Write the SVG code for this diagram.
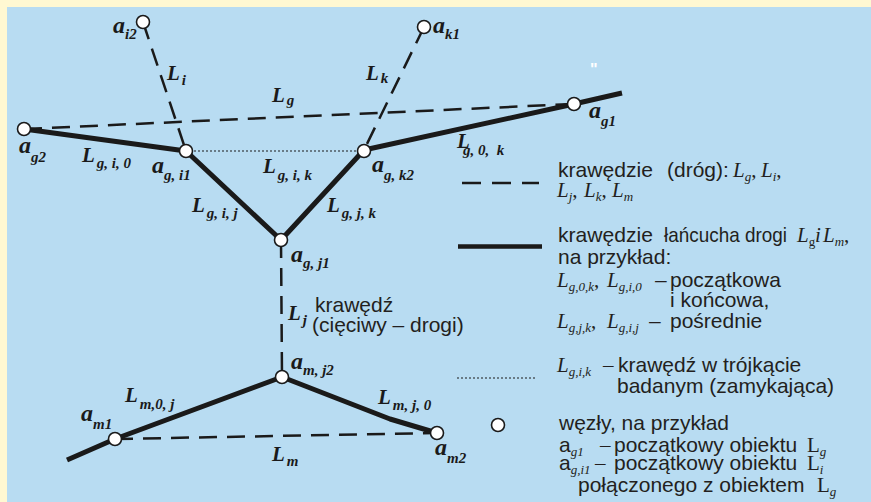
<svg xmlns="http://www.w3.org/2000/svg" width="871" height="502" viewBox="0 0 871 502">
<style>
.thick{fill:none;stroke:#1a1a1a;stroke-width:5;stroke-linejoin:round}
.dash{fill:none;stroke:#1a1a1a;stroke-width:2.5;stroke-dasharray:18 10}
.dot{fill:none;stroke:#1a1a1a;stroke-width:1.2;stroke-dasharray:2 2}
.node{fill:#fff;stroke:#1a1a1a;stroke-width:1.6}
.lab{font-family:"Liberation Serif","Times New Roman",serif;font-weight:bold;font-style:italic;fill:#1a1a1a}
.a{font-size:24px}
.L{font-size:21px}
.s{font-size:15px}
.sans{font-family:"Liberation Sans",Arial,sans-serif;font-size:21px;fill:#231f20}
.it{font-family:"Liberation Serif","Times New Roman",serif;font-style:italic}
.rm{font-family:"Liberation Serif","Times New Roman",serif}
.ss{font-size:13px}
</style>
<rect width="871" height="502" fill="#fff8d2"/>
<rect x="7" y="7" width="864" height="495" fill="#b8dcf2"/>

<g id="connectors">
<polyline class="thick" points="24,129 186,151 281,240 364,150 574,104 622,93"/>
<polyline class="thick" points="67,460 115,439 282,377 390,419 437,433"/>
<line class="dash" x1="24" y1="129" x2="574" y2="104"/>
<line class="dash" x1="143" y1="22" x2="186" y2="151"/>
<line class="dash" x1="424" y1="27" x2="364" y2="150"/>
<line class="dash" x1="281" y1="240" x2="282" y2="377"/>
<line class="dash" x1="115" y1="439" x2="437" y2="433"/>
<line class="dot" x1="186" y1="151" x2="364" y2="151"/>
</g>

<g id="edge-labels" class="lab">
<text class="L" x="167" y="80">L<tspan class="s" dx="2" dy="5">i</tspan></text>
<text class="L" x="272" y="102">L<tspan class="s" dx="2" dy="3">g</tspan></text>
<text class="L" x="366" y="80">L<tspan class="s" dx="2" dy="3">k</tspan></text>
<text class="L" x="82" y="162">L<tspan class="s" dx="2" dy="6">g, i, 0</tspan></text>
<text class="L" x="263" y="173">L<tspan class="s" dx="2" dy="7">g, i, k</tspan></text>
<text class="L" x="457" y="148">L<tspan class="s" x="463" dy="7" xml:space="preserve">g, 0,  k</tspan></text>
<text class="L" x="192" y="212">L<tspan class="s" dx="2" dy="6">g, i, j</tspan></text>
<text class="L" x="327" y="212">L<tspan class="s" dx="2" dy="6">g, j, k</tspan></text>
<text class="L" x="288" y="320">L<tspan class="s" dx="2" dy="5">j</tspan></text>
<text class="L" x="125" y="402">L<tspan class="s" dx="2" dy="7">m,0, j</tspan></text>
<text class="L" x="378" y="404">L<tspan class="s" dx="2" dy="6">m, j, 0</tspan></text>
<text class="L" x="272" y="461">L<tspan class="s" dx="2" dy="5">m</tspan></text>
</g>
<g id="chord-label" class="sans">
<text x="315" y="312">krawędź</text>
<text x="312" y="332">(cięciwy – drogi)</text>
</g>

<g id="n-ai2"><circle class="node" cx="143" cy="22" r="6.5"/><text class="lab a" x="113" y="33">a<tspan class="s" dy="6">i2</tspan></text></g>
<g id="n-ak1"><circle class="node" cx="424" cy="27" r="6.5"/><text class="lab a" x="433" y="33">a<tspan class="s" dy="6">k1</tspan></text></g>
<g id="n-ag2"><circle class="node" cx="24" cy="129" r="6.5"/><text class="lab a" x="19" y="153">a<tspan class="s" dy="9">g2</tspan></text></g>
<g id="n-agi1"><circle class="node" cx="186" cy="151" r="6.5"/><text class="lab a" x="152" y="173">a<tspan class="s" dy="7">g, i1</tspan></text></g>
<g id="n-agk2"><circle class="node" cx="364" cy="151" r="6.5"/><text class="lab a" x="372" y="172">a<tspan class="s" dy="8">g, k2</tspan></text></g>
<g id="n-ag1"><circle class="node" cx="574" cy="104" r="6.5"/><text class="lab a" x="589" y="118">a<tspan class="s" dy="8">g1</tspan></text></g>
<g id="n-agj1"><circle class="node" cx="281" cy="240" r="6.5"/><text class="lab a" x="291" y="262">a<tspan class="s" dy="6">g, j1</tspan></text></g>
<g id="n-amj2"><circle class="node" cx="282" cy="377" r="6.5"/><text class="lab a" x="291" y="369">a<tspan class="s" dy="6">m, j2</tspan></text></g>
<g id="n-am1"><circle class="node" cx="115" cy="439" r="6.5"/><text class="lab a" x="81" y="421">a<tspan class="s" dy="8">m1</tspan></text></g>
<g id="n-am2"><circle class="node" cx="437" cy="433" r="6.5"/><text class="lab a" x="435" y="455">a<tspan class="s" dy="8">m2</tspan></text></g>

<text x="590" y="75" font-family="Liberation Sans,sans-serif" font-size="16" font-weight="bold" fill="#fff">"</text>

<g id="legend" class="sans">
<line x1="462" y1="183" x2="539" y2="183" style="fill:none;stroke:#1a1a1a;stroke-width:2.5;stroke-dasharray:19 11"/>
<text y="177"><tspan x="558" textLength="95" lengthAdjust="spacingAndGlyphs">krawędzie</tspan><tspan x="667">(dróg):</tspan><tspan class="it" x="733">L</tspan><tspan class="it ss" dy="4">g</tspan><tspan class="rm" dy="-4">,</tspan><tspan class="it" x="761">L</tspan><tspan class="it ss" dy="4">i</tspan><tspan class="rm" dy="-4">,</tspan></text>
<text y="197"><tspan class="it" x="557">L</tspan><tspan class="it ss" dy="4">j</tspan><tspan class="rm" dy="-4">,</tspan><tspan class="it" x="584">L</tspan><tspan class="it ss" dy="4">k</tspan><tspan class="rm" dy="-4">,</tspan><tspan class="it" x="612">L</tspan><tspan class="it ss" dy="4">m</tspan></text>

<line x1="458" y1="246.5" x2="542" y2="246.5" style="stroke:#1a1a1a;stroke-width:4.5"/>
<text y="242"><tspan x="558" textLength="95" lengthAdjust="spacingAndGlyphs">krawędzie</tspan><tspan x="664" textLength="123" lengthAdjust="spacingAndGlyphs">łańcucha drogi</tspan><tspan class="it" x="797">L</tspan><tspan class="rm ss" dy="4">g</tspan><tspan class="it" x="815" dy="-4">i</tspan><tspan class="it" x="823">L</tspan><tspan class="it ss" dy="4">m</tspan><tspan class="rm" dy="-4">,</tspan></text>
<text x="558" y="264">na przykład:</text>
<text y="287"><tspan class="it" x="557">L</tspan><tspan class="it ss" dy="4">g,0,k</tspan><tspan class="rm" dy="-4">,</tspan><tspan class="it" x="607">L</tspan><tspan class="it ss" dy="4">g,i,0</tspan><tspan x="655" dy="-4">–</tspan><tspan x="670">początkowa</tspan></text>
<text x="670" y="307">i końcowa,</text>
<text y="328"><tspan class="it" x="557">L</tspan><tspan class="it ss" dy="4">g,j,k</tspan><tspan class="rm" dy="-4">,</tspan><tspan class="it" x="607">L</tspan><tspan class="it ss" dy="4">g,i,j</tspan><tspan x="649" dy="-4">–</tspan><tspan x="670">pośrednie</tspan></text>

<line x1="457" y1="378" x2="537" y2="378" style="fill:none;stroke:#1a1a1a;stroke-width:1.2;stroke-dasharray:2 2"/>
<text y="372"><tspan class="it" x="557">L</tspan><tspan class="it ss" dy="4">g,i,k</tspan><tspan class="rm" x="603" dy="-4">–</tspan><tspan x="618">krawędź w trójkącie</tspan></text>
<text x="617" y="393">badanym (zamykająca)</text>

<circle class="node" cx="498" cy="425" r="6.5"/>
<text x="559" y="430">węzły, na przykład</text>
<text y="452"><tspan x="559">a</tspan><tspan class="it ss" dy="4">g1</tspan><tspan class="rm" x="600" dy="-4">–</tspan><tspan x="614">początkowy obiektu</tspan><tspan class="rm" x="807">L</tspan><tspan class="it ss" dy="4">g</tspan></text>
<text y="470"><tspan x="559">a</tspan><tspan class="it ss" dy="4">g,i1</tspan><tspan class="rm" x="595" dy="-4">–</tspan><tspan x="614">początkowy obiektu</tspan><tspan class="rm" x="807">L</tspan><tspan class="it ss" dy="4">i</tspan></text>
<text y="492"><tspan x="578">połączonego z obiektem</tspan><tspan class="rm" x="817">L</tspan><tspan class="it ss" dy="4">g</tspan></text>
</g>
</svg>
